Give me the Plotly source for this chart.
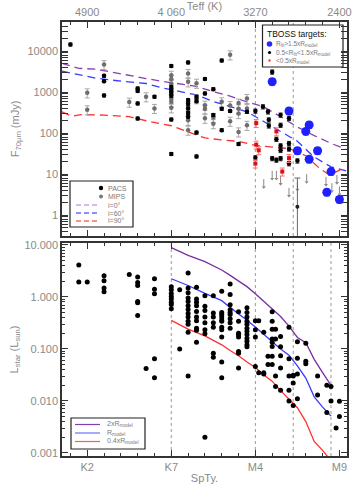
import plotly.graph_objects as go

# ---------------- tick labels ----------------
spt_major = [2, 7, 12, 17]
spt_labels = ["K2", "K7", "M4", "M9"]
teff_labels = ["4900", "4 060", "3270", "2400"]
f70_ticks = [1, 10, 100, 1000, 10000]
f70_labels = ["1", "10", "100", "1000", "10000"]
lum_ticks = [0.001, 0.01, 0.1, 1, 10]
lum_labels = ["0.001", "0.010", "0.100", "1.000", "10.000"]
bound_top = [12, 14.25]
bound_bottom = [7, 12, 14.25, 16.5]

# ---------------- top panel: 70 micron fluxes (mJy) ----------------
pacs_spt = [1, 3, 3, 3, 5, 5, 5, 5, 6, 7, 7, 7, 7, 7, 7, 7, 8, 8, 8, 8, 8, 8,
            8.5, 8.5, 8.5, 8.5, 9, 9, 9.5, 9.5, 10, 10, 10, 10.5, 11, 11.5]
pacs_f70 = [14500, 2500, 1850, 830, 1230, 1070, 530, 227, 770, 4350, 1340, 1120, 980, 810, 215, 31,
            5300, 640, 520, 400, 310, 250, 770, 600, 103, 27, 2100, 930, 1180, 275, 5900, 390, 118,
            345, 54, 330]

mips_spt = [2, 2, 3, 4.5, 5.5, 6, 7, 7, 7, 7, 7, 7, 8, 8, 8, 8, 8, 8.5, 8.5, 9, 9, 9, 9.5, 9.5,
            10, 10.5, 10.5, 10.5, 11, 11, 11, 11, 11.5, 11.5, 11.5]
mips_f70 = [960, 370, 4700, 570, 770, 400, 2580, 2080, 1620, 680, 580, 415, 2840, 1780, 460, 205,
            118, 1650, 690, 480, 390, 230, 240, 170, 580, 8100, 470, 195, 540, 390, 300, 107, 700,
            400, 155]

tboss_mid_spt = [12, 12, 12.45, 12.75, 12.8, 12.8, 13, 13, 13.25, 13.25, 13.5, 13.5, 13.5, 13.5,
                 13.5, 14, 14, 14, 14, 14.5]
tboss_mid_f70 = [345, 25, 440, 330, 210, 150, 3100, 24, 71, 22, 275, 156, 49, 38, 24, 230, 56, 41,
                 18, 21]
tboss_faint_spt = [14.5]
tboss_faint_f70 = [1.6]
tboss_faint_hi = [8.0]
tboss_faint_lo = [0.3]

tboss_low_spt = [12.05, 12.05, 12.2, 12.0, 13.25, 13.6, 14.0]
tboss_low_f70 = [175, 52, 38, 18, 110, 11.5, 24.5]

tboss_high_spt = [13.0, 14.0, 15.2, 15.0, 14.5, 15.7, 15.2, 16.5, 16.25, 17.0]
tboss_high_f70 = [1800, 345, 158, 110, 37, 37, 23, 11.5, 3.6, 2.4]

uplim_spt = [12.5, 13.0, 13.25, 13.5, 14.0, 14.5, 15.05, 16.2, 16.55, 16.85, 17.0]
uplim_f70 = [7.5, 12, 12, 9, 4.6, 6.5, 10, 8.5, 6, 9.5, 5]

model_spt = [0.5, 1.5, 2.5, 3.5, 4.5, 5.5, 6.5, 7.5, 8.5, 9.5, 10.5, 11.5, 12.5, 13.5, 14.5,
             15.5, 16.5, 17.4]
model_i0 = [5010, 3800, 3630, 3020, 2510, 2140, 1820, 1580, 1380, 1020, 794, 575, 436, 251, 141,
            87, 56, 40]
model_i60 = [3240, 2630, 2190, 1950, 1780, 1620, 1260, 1050, 851, 589, 447, 331, 191, 112, 63,
             26, 15, 12]
model90_spt = [0.5, 1.1, 1.6, 3.0, 4.5, 5.5, 7.0, 8.0, 9.0, 10.0, 11.0, 12.0, 13.0, 14.0, 15.0,
               15.8, 16.4, 17.1]
model_i90 = [331, 257, 282, 275, 251, 200, 151, 105, 76, 68, 63, 50, 46, 42, 28, 14, 9.5, 13]

# ---------------- bottom panel: stellar luminosity (Lsun) ----------------
lum_spt = ([1.5, 1.5, 2] + [3] * 4 + [4.5] + [5] * 6 + [5.5] + [6] * 5 + [7] * 8 + [7.5] * 2
           + [8] * 13 + [8.5] * 10 + [9] * 8 + [9.5] * 7 + [10] * 11 + [10.5] * 9 + [11] * 8
           + [11.5] * 12 + [12] * 4 + [12.2] * 2 + [12.5] * 3 + [12.75] * 2 + [13] * 8 + [13.2] * 4
           + [13.5] * 5 + [14] * 5 + [14.25] * 4 + [14.5] * 4 + [15] * 3 + [15.7] * 2
           + [16.25] * 2 + [16.5] * 2 + [16.8] + [17] * 2)
lum_val = [4.1, 1.95, 1.95,
           2.55, 2.05, 1.48, 1.26,
           2.7,
           2.43, 1.9, 1.66, 0.82, 0.77, 0.44,
           0.042,
           2.24, 1.41, 1.15, 0.065, 0.028,
           1.58, 1.38, 1.17, 1.02, 0.91, 0.79, 0.72, 0.59,
           1.38, 0.10,
           2.9, 1.48, 1.2, 0.95, 0.82, 0.68, 0.575, 0.48, 0.41, 0.34, 0.30, 0.21, 0.030,
           1.53, 0.91, 0.79, 0.68, 0.525, 0.41, 0.35, 0.25, 0.23, 0.135,
           1.06, 0.66, 0.55, 0.41, 0.32, 0.234, 0.195, 0.002,
           1.06, 0.49, 0.41, 0.32, 0.26, 0.083, 0.069,
           1.29, 0.50, 0.46, 0.41, 0.36, 0.34, 0.26, 0.234, 0.17, 0.056, 0.028,
           1.78, 1.11, 0.71, 0.57, 0.50, 0.46, 0.38, 0.32, 0.25,
           0.52, 0.34, 0.20, 0.19, 0.17, 0.089, 0.083, 0.043,
           0.62, 0.50, 0.41, 0.34, 0.30, 0.25, 0.22, 0.19, 0.16, 0.14, 0.12, 0.11,
           0.35, 0.234, 0.17, 0.046,
           0.35, 0.035,
           0.21, 0.035, 0.033,
           0.072, 0.05,
           0.52, 0.34, 0.24, 0.155, 0.135, 0.112, 0.072, 0.05,
           0.24, 0.155, 0.030, 0.019,
           0.174, 0.11, 0.074, 0.043, 0.016,
           0.26, 0.065, 0.030, 0.016, 0.010,
           0.030, 0.031, 0.022, 0.0082,
           0.138, 0.066, 0.033, 0.011,
           0.129, 0.058, 0.052,
           0.030, 0.013,
           0.020, 0.006,
           0.019, 0.010,
           0.003,
           0.0098, 0.005]

lcurve_spt = [7, 8, 9, 10, 10.5, 11, 11.5, 12, 12.5, 13, 13.5, 14, 14.5, 15, 15.5, 16, 16.5]
lcurve_2x = [8.9, 6.3, 4.8, 3.3, 2.6, 2.0, 1.58, 1.15, 0.83, 0.60, 0.42, 0.275, 0.166, 0.132,
             0.063, 0.035, 0.020]
lcurve_1x = [2.24, 1.66, 1.17, 0.85, 0.63, 0.48, 0.355, 0.263, 0.19, 0.141, 0.10, 0.076, 0.047,
             0.0275, 0.012, 0.0076, 0.0051]
lcurve_04x = [0.355, 0.24, 0.178, 0.12, 0.093, 0.074, 0.056, 0.044, 0.0316, 0.024, 0.0158,
              0.011, 0.0074, 0.004, 0.00166, 0.00112, 0.0007]

# ---------------- styling ----------------
FONT = "Liberation Sans, Arial, sans-serif"
GRAY = "#8a8a8a"
AX = "#333333"
PURPLE = "#8a3fb0"
BLUE = "#3a3aff"
RED = "#ff3030"
XR = [0.5, 17.45]

fig = go.Figure()

# model curves (top)
fig.add_trace(go.Scatter(x=model_spt, y=model_i0, mode="lines", xaxis="x", yaxis="y",
                         line=dict(color=PURPLE, width=1.3, dash="8px,5px"), showlegend=False))
fig.add_trace(go.Scatter(x=model_spt, y=model_i60, mode="lines", xaxis="x", yaxis="y",
                         line=dict(color=BLUE, width=1.3, dash="8px,5px"), showlegend=False))
fig.add_trace(go.Scatter(x=model90_spt, y=model_i90, mode="lines", xaxis="x", yaxis="y",
                         line=dict(color=RED, width=1.3, dash="8px,5px"), showlegend=False))

# MIPS
fig.add_trace(go.Scatter(x=mips_spt, y=mips_f70, mode="markers", xaxis="x", yaxis="y",
                         marker=dict(color="#6e6e6e", size=4.5),
                         error_y=dict(type="percent", value=25, color="#a8a8a8", width=2.5,
                                      thickness=1),
                         showlegend=False))
# PACS
fig.add_trace(go.Scatter(x=pacs_spt, y=pacs_f70, mode="markers", xaxis="x", yaxis="y",
                         marker=dict(color="#000000", size=4.5),
                         error_y=dict(type="percent", value=8, color="#202020", width=2,
                                      thickness=1),
                         showlegend=False))
# upper limits
fig.add_trace(go.Scatter(x=uplim_spt, y=uplim_f70, mode="markers", xaxis="x", yaxis="y",
                         marker=dict(size=1, color="rgba(0,0,0,0)"),
                         error_y=dict(type="data", symmetric=False, array=[0] * len(uplim_f70),
                                      arrayminus=[v * 0.33 for v in uplim_f70],
                                      color="#888888", width=0, thickness=1),
                         showlegend=False))
fig.add_trace(go.Scatter(x=uplim_spt, y=[v * 0.64 for v in uplim_f70], mode="markers",
                         xaxis="x", yaxis="y",
                         marker=dict(symbol="triangle-down", size=3.5, color="#888888"),
                         showlegend=False))
# TBOSS
fig.add_trace(go.Scatter(x=tboss_faint_spt, y=tboss_faint_f70, mode="markers", xaxis="x", yaxis="y",
                         marker=dict(color="#222222", size=4),
                         error_y=dict(type="data", symmetric=False,
                                      array=[h - f for h, f in zip(tboss_faint_hi, tboss_faint_f70)],
                                      arrayminus=[f - l for l, f in zip(tboss_faint_lo, tboss_faint_f70)],
                                      color="#666666", width=3, thickness=1),
                         showlegend=False))
fig.add_trace(go.Scatter(x=tboss_mid_spt, y=tboss_mid_f70, mode="markers", xaxis="x", yaxis="y",
                         marker=dict(color="#000000", size=4.5),
                         error_y=dict(type="percent", value=12, color="#303030", width=2,
                                      thickness=1),
                         showlegend=False))
fig.add_trace(go.Scatter(x=tboss_low_spt, y=tboss_low_f70, mode="markers", xaxis="x", yaxis="y",
                         marker=dict(color="#e01010", size=4, symbol="square"),
                         error_y=dict(type="percent", value=22, color="#ff7070", width=2.5,
                                      thickness=1),
                         showlegend=False))
fig.add_trace(go.Scatter(x=tboss_high_spt, y=tboss_high_f70, mode="markers", xaxis="x", yaxis="y",
                         marker=dict(color="#1f1fff", size=9),
                         error_y=dict(type="percent", value=18, color="#4040ff", width=3,
                                      thickness=1),
                         showlegend=False))

# dummy trace for top (Teff) axis
fig.add_trace(go.Scatter(x=[XR[0]], y=[1], xaxis="x3", yaxis="y", mode="markers",
                         marker=dict(size=1, color="rgba(0,0,0,0)"), hoverinfo="skip",
                         showlegend=False))

# bottom panel
fig.add_trace(go.Scatter(x=lcurve_spt, y=lcurve_2x, mode="lines", xaxis="x2", yaxis="y2",
                         line=dict(color="#7a2fa0", width=1.3), showlegend=False))
fig.add_trace(go.Scatter(x=lcurve_spt, y=lcurve_1x, mode="lines", xaxis="x2", yaxis="y2",
                         line=dict(color=BLUE, width=1.3), showlegend=False))
fig.add_trace(go.Scatter(x=lcurve_spt, y=lcurve_04x, mode="lines", xaxis="x2", yaxis="y2",
                         line=dict(color=RED, width=1.3), showlegend=False))
fig.add_trace(go.Scatter(x=lum_spt, y=lum_val, mode="markers", xaxis="x2", yaxis="y2",
                         marker=dict(color="#000000", size=5), showlegend=False))


def log_minor(lo, hi):
    out = []
    for d in range(lo, hi + 1):
        for k in range(2, 10):
            out.append(k * 10.0 ** d)
    return out


tickfont = dict(family=FONT, size=11, color=GRAY)
common_x = dict(range=XR, ticks="inside", ticklen=6, tickwidth=1, tickcolor=AX,
                showline=True, linecolor=AX, linewidth=1.5, showgrid=False, zeroline=False,
                automargin=False,
                tickmode="array", tickvals=spt_major,
                minor=dict(tickmode="linear", tick0=0, dtick=1, ticks="inside", ticklen=3,
                           tickcolor=AX, showgrid=False),
                tickfont=tickfont)
common_y = dict(type="log", ticks="inside", ticklen=6, tickwidth=1, tickcolor=AX,
                showline=True, linecolor=AX, linewidth=1.5, showgrid=False, zeroline=False,
                automargin=False,
                mirror="allticks", tickfont=tickfont)

fig.update_layout(
    width=355, height=491,
    margin=dict(l=62, r=8, t=22, b=35),
    paper_bgcolor="white", plot_bgcolor="white",
    font=dict(family=FONT, color=GRAY),
    showlegend=False,
    xaxis=dict(**common_x, domain=[0, 1], anchor="y", showticklabels=False, mirror=True),
    xaxis3=dict(**common_x, overlaying="x", anchor="y", side="top", ticktext=teff_labels,
                title=dict(text="Teff (K)", font=dict(family=FONT, size=11, color=GRAY),
                           standoff=0)),
    xaxis2=dict(**common_x, domain=[0, 1], anchor="y2", mirror="allticks", ticktext=spt_labels,
                title=dict(text="SpTy.", font=dict(family=FONT, size=11, color=GRAY),
                           standoff=2)),
    yaxis=dict(**common_y, domain=[0.507, 1], anchor="x", range=[-0.51, 4.71],
               tickmode="array", tickvals=f70_ticks, ticktext=f70_labels,
               minor=dict(tickmode="array", tickvals=log_minor(-1, 4), ticks="inside",
                          ticklen=3, tickcolor=AX),
               title=dict(text="F<sub>70μm</sub> (mJy)", font=dict(family=FONT, size=11, color=GRAY),
                          standoff=6)),
    yaxis2=dict(**common_y, domain=[0, 0.491], anchor="x2", range=[-3.06, 1.04],
                tickmode="array", tickvals=lum_ticks, ticktext=lum_labels,
                minor=dict(tickmode="array", tickvals=log_minor(-4, 1), ticks="inside",
                           ticklen=3, tickcolor=AX),
                title=dict(text="L<sub>star</sub> (L<sub>sun</sub>)",
                           font=dict(family=FONT, size=11, color=GRAY), standoff=4)),
)

shapes = []
for b in bound_top:
    shapes.append(dict(type="line", xref="x", yref="y domain", x0=b, x1=b, y0=0, y1=1,
                       line=dict(color="#9a9a9a", width=1, dash="dot"), layer="below"))
for b in bound_bottom:
    shapes.append(dict(type="line", xref="x2", yref="y2 domain", x0=b, x1=b, y0=0, y1=1,
                       line=dict(color="#9a9a9a", width=1, dash="dot"), layer="below"))

# ---------- hand-drawn legends (paper coordinates from pixel positions) ----------
L, T, W, H = 62, 22, 285, 434


def px(x):
    return (x - L) / W


def py(y):
    return (T + H - y) / H


def box(x0, y0, x1, y1):
    shapes.append(dict(type="rect", xref="paper", yref="paper", x0=px(x0), x1=px(x1),
                       y0=py(y1), y1=py(y0), line=dict(color="#222222", width=1.2),
                       fillcolor="white", layer="below"))


def seg(x0, x1, y, color, dash="solid", width=1.3):
    shapes.append(dict(type="line", xref="paper", yref="paper", x0=px(x0), x1=px(x1),
                       y0=py(y), y1=py(y), line=dict(color=color, width=width, dash=dash)))


def dot(x, y, r, color):
    shapes.append(dict(type="circle", xref="paper", yref="paper", x0=px(x - r), x1=px(x + r),
                       y0=py(y + r), y1=py(y - r), fillcolor=color, line=dict(width=0)))


annotations = []


def label(x, y, text, size=7.5, color="#7a7a7a"):
    annotations.append(dict(xref="paper", yref="paper", x=px(x), y=py(y), text=text,
                            showarrow=False, xanchor="left", yanchor="middle",
                            font=dict(family=FONT, size=size, color=color)))


# top-left legend
box(70, 181, 133, 227)
dot(101, 188, 2.2, "#000000")
label(106, 188, "PACS", size=7)
dot(101, 196.5, 2.0, "#777777")
label(106, 196.5, "MIPS", size=7)
seg(76, 99, 205, "#c9a3e6", dash="5px,3px")
label(106, 205, "i=0°", size=7)
seg(76, 99, 213, "#6a6aff", dash="5px,3px")
label(106, 213, "i=60°", size=7)
seg(76, 99, 221, "#ff6a6a", dash="5px,3px")
label(106, 221, "i=90°", size=7)

# TBOSS legend
box(262.5, 25, 343, 67)
label(265, 34, "TBOSS targets:", size=8.5, color="#111111")
dot(269.5, 44, 2.8, "#2a2aff")
label(274, 44, "R<sub>fit</sub>>1.5xR<sub>model</sub>", size=6.5)
dot(269.5, 52.5, 1.6, "#000000")
label(274, 52.5, "0.5<R<sub>fit</sub><1.5xR<sub>model</sub>", size=6.5)
dot(269.5, 60.5, 1.2, "#ff3030")
label(274, 60.5, "<0.5xR<sub>model</sub>", size=6.5)

# bottom legend
box(71, 418, 145, 449)
seg(75, 100, 424.5, "#8040b0", width=1.2)
label(105, 424, "2xR<sub>model</sub>", size=7)
seg(75, 100, 433, "#a8a8ff", width=2)
label(105, 432.5, "R<sub>model</sub>", size=7)
seg(75, 100, 441.5, "#f06060", width=1.2)
label(105, 441, "0.4xR<sub>model</sub>", size=7)

fig.update_layout(shapes=shapes, annotations=annotations)

# the page's default 8px body margin would shift the figure; remove it
fig.write_html("out.html", config={"displayModeBar": False},
               post_script="document.body.style.margin='0';")
